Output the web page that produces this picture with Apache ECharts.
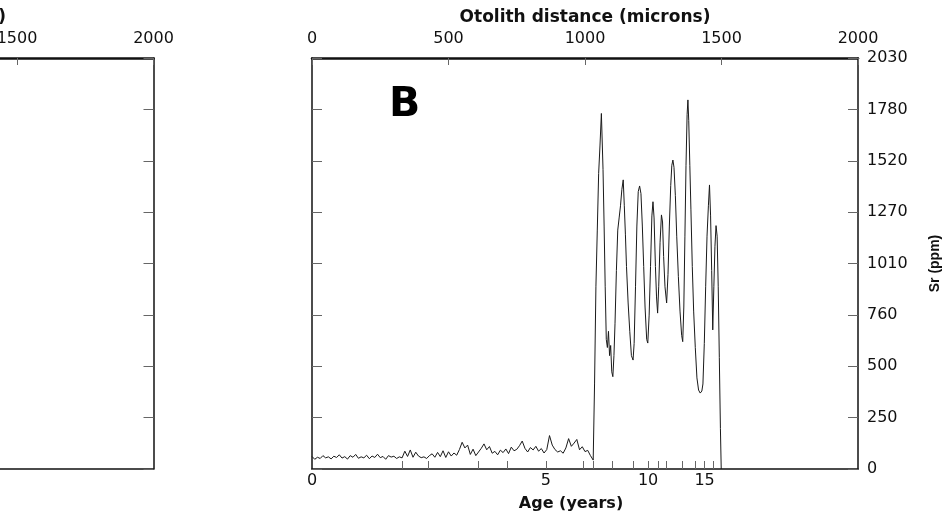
<!DOCTYPE html>
<html>
<head>
<meta charset="utf-8">
<title>Otolith Sr profile</title>
<script src="https://cdn.jsdelivr.net/npm/echarts@6/dist/echarts.min.js"></script>
<style>
  html, body { margin: 0; padding: 0; background: #fff; }
  #chart { width: 946px; height: 523px; }
</style>
</head>
<body>
<div id="chart"></div>
<script>
// distance along the otolith (microns) for every Sr sample
const distance = [
  0, 10, 20, 30, 40, 50, 60, 70, 80, 90,
  100, 110, 120, 130, 140, 150, 160, 170, 180, 190,
  200, 210, 220, 230, 240, 250, 260, 270, 280, 290,
  300, 310, 320, 330, 340, 350, 360, 370, 380, 390,
  400, 410, 420, 430, 440, 450, 460, 470, 480, 490,
  500, 510, 520, 530, 540, 550, 560, 570, 580, 590,
  600, 610, 620, 630, 640, 650, 660, 670, 680, 690,
  700, 710, 720, 730, 740, 750, 760, 770, 780, 790,
  800, 810, 820, 830, 840, 850, 860, 870, 880, 890,
  900, 910, 920, 930, 940, 950, 960, 970, 980, 990,
  1000, 1010, 1020, 1030,
  1035, 1040, 1045, 1050, 1055, 1060, 1063, 1066, 1070, 1074,
  1078, 1082, 1086, 1090, 1094, 1098, 1102, 1106, 1110, 1115,
  1120, 1125, 1130, 1135, 1140, 1144, 1148, 1152, 1158, 1164,
  1170, 1176, 1180, 1185, 1190, 1195, 1200, 1205, 1210, 1215,
  1220, 1226, 1230, 1235, 1240, 1245, 1249, 1253, 1258, 1262,
  1266, 1270, 1275, 1280, 1284, 1288, 1293, 1299, 1304, 1309,
  1314, 1318, 1322, 1326, 1331, 1336, 1342, 1348, 1354, 1358,
  1362, 1366, 1370, 1374, 1377, 1380, 1384, 1388, 1393, 1398,
  1404, 1410, 1416, 1422, 1428, 1432, 1437, 1442, 1447, 1452,
  1456, 1460, 1464, 1468, 1472, 1476, 1480, 1484, 1488, 1492,
  1496, 1499
];
// Sr concentration (ppm)
const sr = [
  62, 48, 58, 52, 66, 55, 60, 50, 63, 57,
  70, 54, 61, 49, 66, 58, 72, 53, 60, 55,
  68, 51, 64, 57, 73, 56, 62, 48, 66, 59,
  63, 52, 60, 55, 88, 62, 94, 58, 83, 64,
  56, 60, 52, 66, 75, 58, 82, 61, 90, 57,
  85, 64, 79, 68, 96, 132, 104, 118, 72, 98,
  66, 84, 102, 124, 95, 111, 78, 87, 70, 93,
  81, 99, 76, 108, 90, 97, 115, 138, 102, 84,
  106, 94, 112, 88, 101, 79, 96, 165, 118, 96,
  84, 90, 78, 104, 150, 112, 128, 146, 95, 110,
  86, 92, 66, 44,
  420, 900, 1180, 1460, 1600, 1756, 1620, 1480, 1200, 900,
  640, 600, 680, 560, 610, 480, 456, 560, 720, 980,
  1180, 1240, 1300, 1380, 1428, 1300, 1160, 1000, 820, 680,
  560, 538, 620, 900, 1200, 1370, 1398, 1360, 1200, 1000,
  800, 640, 622, 760, 1000, 1250, 1320, 1240, 1000, 850,
  770, 900, 1120, 1255, 1220, 1050, 900, 820, 960, 1200,
  1400, 1500, 1526, 1490, 1350, 1150, 950, 780, 660, 629,
  800, 1150, 1500, 1750, 1823, 1720, 1500, 1280, 1000, 780,
  600, 450, 390, 375, 385, 420, 620, 900, 1150, 1300,
  1403, 1250, 980, 687, 900, 1100, 1202, 1150, 900, 550,
  200, 0
];
// right axis: 8 equal steps up to 2030, labels as printed
const srMax = 2030;
const srStep = srMax / 8;
const srTickLabels = ['0', '250', '500', '760', '1010', '1270', '1520', '1780', '2030'];
// annual growth marks along the otolith (microns), years 1..16
const ageTickPos = [332, 426, 609, 715, 857, 992, 1030, 1100, 1177, 1231, 1268, 1299, 1358, 1405, 1438, 1468];
const ageLabelPos = [0, 857, 1231, 1438];
const ageLabels = ['0', '5', '10', '15'];

const axisColor = '#111';
const tickColor = '#666';
const labelFont = { fontFamily: 'DejaVu Sans', fontSize: 16, color: '#111' };
const nameFont = { fontFamily: 'DejaVu Sans', fontWeight: 'bold', color: '#111' };

function srLabel(v) {
  return srTickLabels[Math.round(v / srStep)];
}
function ageLabel(v) {
  const i = ageLabelPos.indexOf(v);
  return i < 0 ? '' : ageLabels[i];
}
function plain(v) {
  return String(v);
}

const frame = (w) => ({ show: true, onZero: false, lineStyle: { color: axisColor, width: w } });

// one panel: bottom age axis + top distance axis
function panelX(grid, withAge) {
  return [
    {
      gridIndex: grid, type: 'value', position: 'bottom', min: 0, max: 2000,
      axisLine: frame(1.5),
      axisTick: withAge
        ? { inside: true, length: 8, customValues: ageTickPos, lineStyle: { color: tickColor } }
        : { show: false },
      axisLabel: withAge
        ? { customValues: ageLabelPos, formatter: ageLabel, margin: 4, ...labelFont }
        : { show: false },
      splitLine: { show: false },
      name: 'Age (years)', nameLocation: 'middle', nameGap: 27,
      nameTextStyle: { ...nameFont, fontSize: 16, padding: [0, 28, 0, 0] },
    },
    {
      gridIndex: grid, type: 'value', position: 'top', min: 0, max: 2000, interval: 500,
      axisLine: frame(2.5),
      axisTick: { inside: true, length: 7, lineStyle: { color: tickColor } },
      axisLabel: { margin: 11, formatter: plain, ...labelFont },
      splitLine: { show: false },
      name: 'Otolith distance (microns)', nameLocation: 'middle', nameGap: 32,
      nameTextStyle: { ...nameFont, fontSize: 17 },
    },
  ];
}
// left + right Sr axes, labels only on the right of panel B
function panelY(grid, rightLabels) {
  const base = {
    gridIndex: grid, type: 'value', min: 0, max: srMax, interval: srStep,
    axisLine: frame(1.5),
    axisTick: { show: true, inside: true, length: 10, lineStyle: { color: tickColor } },
    splitLine: { show: false },
  };
  return [
    { ...base, position: 'left', axisLabel: { show: !rightLabels, formatter: srLabel, margin: 10, ...labelFont } },
    {
      ...base, position: 'right',
      axisLabel: { show: rightLabels, formatter: srLabel, margin: 9, ...labelFont },
      name: rightLabels ? 'Sr (ppm)' : '', nameLocation: 'middle', nameRotate: 90, nameGap: 70,
      nameTextStyle: { fontFamily: 'Liberation Sans', fontWeight: 'bold', fontSize: 14, color: '#111' },
    },
  ];
}

const points = distance.map((d, i) => [d, sr[i]]);

const option = {
  animation: false,
  backgroundColor: '#fff',
  title: {
    text: 'B', left: 384, top: 80,
    textStyle: { fontFamily: 'DejaVu Sans', fontSize: 41, fontWeight: 'bold', color: '#000' },
  },
  grid: [
    { left: 312, top: 58, width: 546, height: 411, outerBoundsMode: 'none', containLabel: false },
    { left: -392.5, top: 58, width: 546, height: 411, outerBoundsMode: 'none', containLabel: false },
  ],
  xAxis: [...panelX(0, true), ...panelX(1, false)],
  yAxis: [...panelY(0, true), ...panelY(1, false)],
  series: [
    {
      name: 'Sr', type: 'line', xAxisIndex: 0, yAxisIndex: 0,
      data: points, symbol: 'none', showSymbol: false,
      lineStyle: { color: '#1a1a1a', width: 1 },
    },
  ],
};

const chart = echarts.init(document.getElementById('chart'));
chart.setOption(option);
</script>
</body>
</html>
